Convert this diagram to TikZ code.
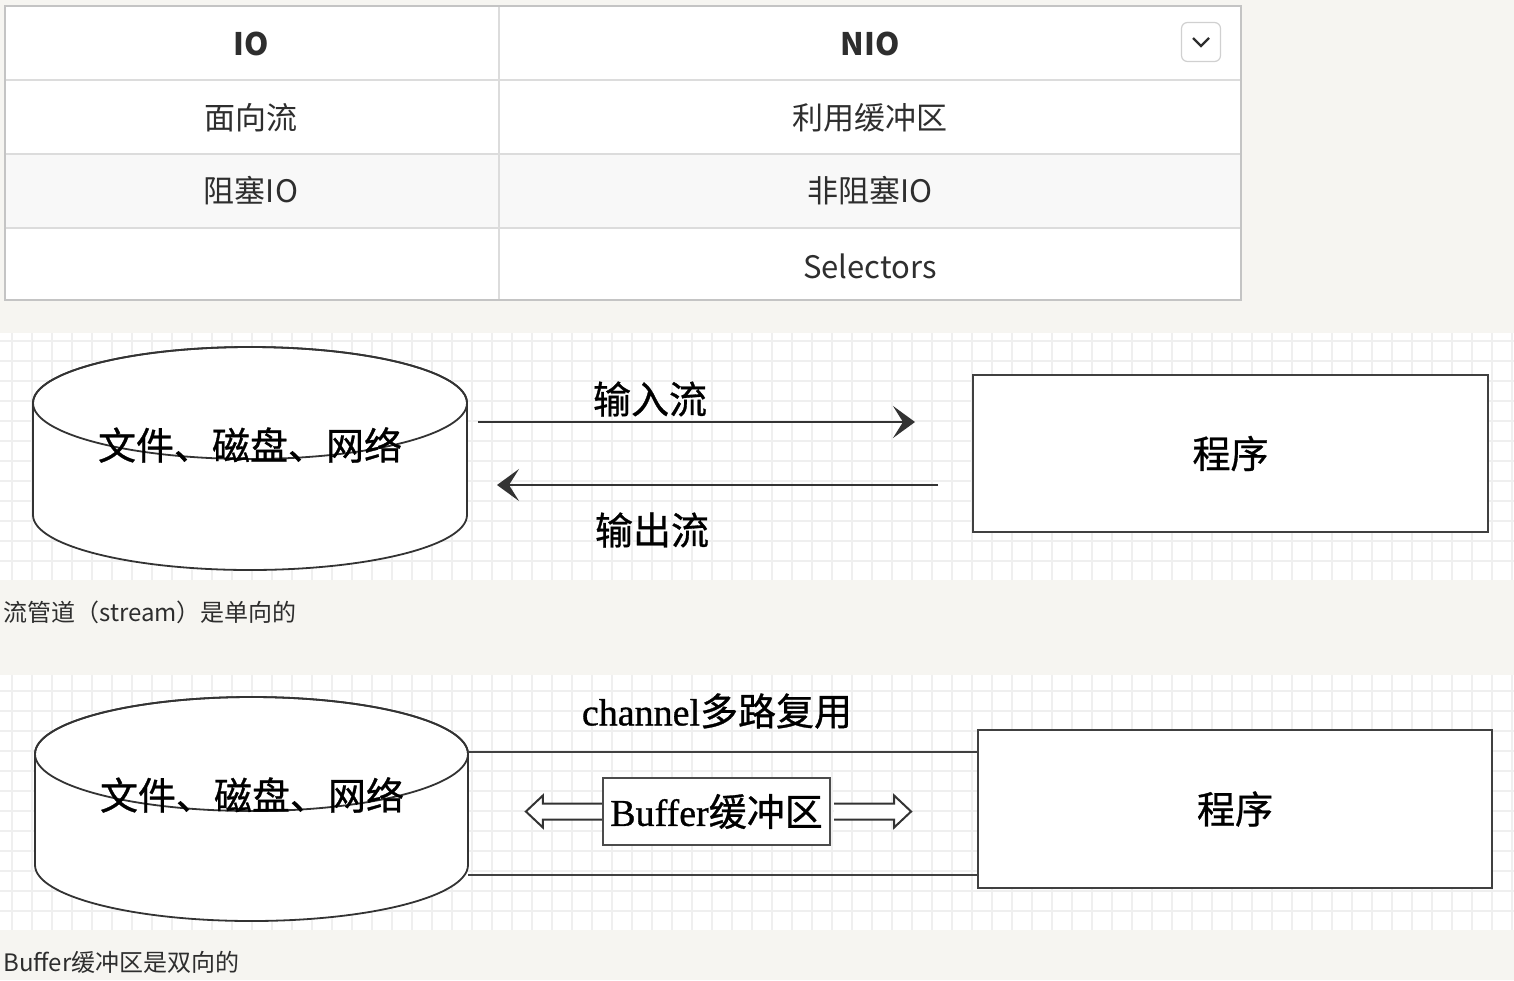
\documentclass[tikz,border=0pt]{standalone}
\usepackage{fontspec}
\setmainfont{Noto Sans CJK SC}
\newfontfamily\drawfont[FakeBold=0.8]{Noto Sans CJK SC}
\newfontfamily\serifen[FakeBold=0.8]{Liberation Serif}
\usetikzlibrary{arrows.meta}
\definecolor{paper}{HTML}{F6F5F1}
\definecolor{rulec}{HTML}{DCDCDC}
\definecolor{framec}{HTML}{C4C4C4}
\definecolor{ink}{HTML}{2E2E2E}
\definecolor{stripe}{HTML}{F8F8F8}
\definecolor{gridc}{HTML}{EFEFEF}

\begin{document}
\begin{tikzpicture}[x=0.5pt,y=-0.5pt,
  cell/.style={text=ink, font=\fontsize{15.5pt}{18pt}\selectfont},
  headcell/.style={text=ink, font=\fontsize{15.5pt}{18pt}\selectfont\bfseries},
  drawtext/.style={text=black, font=\drawfont\fontsize{19pt}{22pt}\selectfont, inner sep=1pt},
  caption/.style={text=ink, font=\fontsize{12pt}{14pt}\selectfont, anchor=west, inner sep=0pt},
  gridline/.style={gridc, line width=0.8pt},
  disk/.style={draw=black!80, line width=0.9pt, fill=white},
  prog/.style={draw=black!75, line width=1.1pt, fill=white, drawtext},
  pipe/.style={draw=black!75, line width=1.1pt},
  flow/.style={draw=black!80, line width=1.2pt, -{Stealth[length=11pt,width=16pt,inset=5pt]}},
  bufbox/.style={draw=black!70, line width=1.1pt, fill=white, drawtext, minimum width=113.5pt, minimum height=33.5pt},
  hollow/.style={draw=black!80, line width=1pt, fill=white, line join=miter}]

\useasboundingbox (0,0) rectangle (1514,980);
\fill[paper] (0,0) rectangle (1514,980);

% table
\fill[white] (5,6) rectangle (1241,300);
\fill[stripe] (5,154) rectangle (1241,228);
\foreach \ry in {80,154,228}
  \draw[rulec, line width=1pt] (5,\ry) -- (1241,\ry);
\draw[rulec, line width=1pt] (499,6) -- (499,300);
\draw[framec, line width=1pt] (5,6) rectangle (1241,300);
\node[draw=framec!80, fill=white, rounded corners=3pt, line width=0.6pt, minimum size=19.5pt] (menu) at (1201,42) {};
\draw[ink, line width=1.1pt] ([xshift=-4pt,yshift=2pt]menu.center) -- ([yshift=-2pt]menu.center) -- ([xshift=4pt,yshift=2pt]menu.center);
\node[headcell] (h-io) at (251,44) {IO};
\node[headcell] (h-nio) at (870,44) {NIO};
\node[cell] (a-io) at (251,118) {面向流};
\node[cell] (a-nio) at (870,118) {利用缓冲区};
\node[cell] (b-io) at (251,191) {阻塞IO};
\node[cell] (b-nio) at (870,191) {非阻塞IO};
\node[cell] (c-nio) at (870,266) {Selectors};

% stream
\fill[white] (0,333) rectangle (1514,580);
\foreach \gx in {12,32,...,1512}
  \draw[gridline] (\gx,333) -- (\gx,580);
\foreach \gy in {341,361,...,561}
  \draw[gridline] (0,\gy) -- (1514,\gy);
\draw[disk] (33,403) -- (33,515) arc (180:0:217 and 55) -- (467,403) arc (0:-180:217 and 56) -- cycle;
\draw[disk, fill=none] (250,403) ellipse (217 and 56);
\node[drawtext] (disk1) at (250,445) {文件、磁盘、网络};
\node[prog, minimum width=257.5pt, minimum height=78.5pt] (prog1) at (1230.5,453.5) {程序};
\coordinate (in-s) at (478,422);
\coordinate (in-e) at (915,422);
\coordinate (out-s) at (938,485);
\coordinate (out-e) at (497,485);
\draw[flow] (in-s) -- (in-e);
\draw[flow] (out-s) -- (out-e);
\node[drawtext] (in-l) at (650,399) {输入流};
\node[drawtext] (out-l) at (652,530) {输出流};
\node[caption] (cap1) at (3,612) {流管道（stream）是单向的};

% buffer
\fill[white] (0,675) rectangle (1514,930);
\foreach \gx in {12,32,...,1512}
  \draw[gridline] (\gx,675) -- (\gx,930);
\foreach \gy in {691,711,...,911}
  \draw[gridline] (0,\gy) -- (1514,\gy);
\draw[disk] (35,754) -- (35,865) arc (180:0:216.5 and 56) -- (468,754) arc (0:-180:216.5 and 57) -- cycle;
\draw[disk, fill=none] (251.5,754) ellipse (216.5 and 57);
\node[drawtext] (disk2) at (252,795) {文件、磁盘、网络};
\node[prog, minimum width=257pt, minimum height=79pt] (prog2) at (1235,809) {程序};
\coordinate (ch-a) at (468,752);
\coordinate (ch-b) at (468,875);
\draw[pipe] (ch-a) -- (ch-a -| prog2.west);
\draw[pipe] (ch-b) -- (ch-b -| prog2.west);
\node[drawtext] (ch-l) at (717,711) {{\serifen channel}多路复用};
\node[bufbox] (buf) at (716.5,811.5) {{\serifen Buffer}缓冲区};
\draw[hollow] (buf.west) ++(0,-8) -- ++(-59,0) -- ++(0,-8) -- ++(-17,16) -- ++(17,16) -- ++(0,-8) -- ++(59,0);
\draw[hollow] (buf.east) ++(3,-8) -- ++(60,0) -- ++(0,-8) -- ++(17,16) -- ++(-17,16) -- ++(0,-8) -- ++(-60,0);
\node[caption] (cap2) at (3,962) {Buffer缓冲区是双向的};
\end{tikzpicture}
\end{document}
